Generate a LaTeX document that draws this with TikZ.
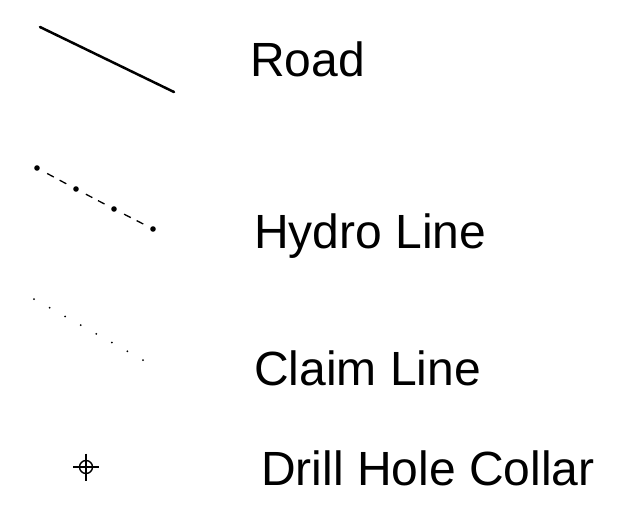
\documentclass[tikz,border=0pt]{standalone}
\usepackage{fontspec}
\setmainfont{Liberation Sans}
\usetikzlibrary{calc}
\begin{document}
\begin{tikzpicture}[x=1pt,y=-1pt,
  legendtext/.style={anchor=base west,inner sep=0pt,font=\fontsize{48}{52}\selectfont},
  roadline/.style={line width=2.5pt,line cap=round},
  thinline/.style={line width=1.3pt}]
\useasboundingbox (0,0) rectangle (620,511);

% Road
\coordinate (r1) at (40,27);
\coordinate (r2) at (174,92);
\draw[roadline] (r1) -- (r2);
\node[legendtext] (road) at (250,76) {Road};

% Hydro line: dots joined by pairs of short dashes
\foreach \i/\x/\y in {0/37/168,1/76/189,2/114/209,3/153/229}
  \coordinate (h\i) at (\x,\y);
\foreach \i in {0,1,2,3}
  \fill (h\i) circle (2.8);
\foreach \a/\b in {h0/h1,h1/h2,h2/h3}{
  \draw[thinline] ($(\a)!0.26!(\b)$) -- ($(\a)!0.43!(\b)$);
  \draw[thinline] ($(\a)!0.58!(\b)$) -- ($(\a)!0.75!(\b)$);
}
\node[legendtext] (hydro) at (254,248) {Hydro Line};

% Claim line: sparse fine dots
\coordinate (c0) at (34,299);
\coordinate (c1) at (143,360);
\foreach \k in {0,...,7}
  \fill ($(c0)!\k/7!(c1)$) circle (1);
\node[legendtext] (claim) at (254,385) {Claim Line};

% Drill hole collar symbol
\coordinate (dh) at (86,467);
\draw[line width=1.4pt] (dh) circle (6.5);
\draw[line width=1.4pt] ($(dh)+(-13,0)$) -- ($(dh)+(13,0)$);
\draw[line width=1.4pt] ($(dh)+(0,-13.5)$) -- ($(dh)+(0,13.5)$);
\node[legendtext] (drill) at (261,485) {Drill Hole Collar};
\end{tikzpicture}
\end{document}
